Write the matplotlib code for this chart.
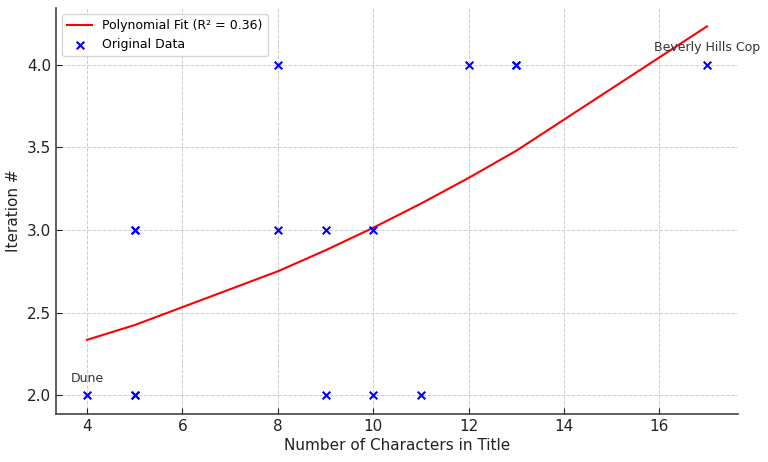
import numpy as np
import matplotlib
matplotlib.use("Agg")
import matplotlib.pyplot as plt

# title lengths and iteration numbers (some points overlap)
title_len = [4, 5, 5, 5, 5, 8, 8, 9, 9, 10, 10, 11, 12, 13, 13, 17]
iteration = [2, 2, 2, 3, 3, 4, 3, 3, 2, 3, 2, 2, 4, 4, 4, 4]
labels = {4: "Dune", 17: "Beverly Hills Cop"}

x = np.array(title_len, dtype=float)
y = np.array(iteration, dtype=float)

# quadratic fit, as in the original
coef = np.polyfit(x, y, 2)
xs = np.unique(x)
fit = np.polyval(coef, xs)
pred = np.polyval(coef, x)
r2 = 1 - np.sum((y - pred) ** 2) / np.sum((y - y.mean()) ** 2)

plt.rcParams['font.family'] = ['DejaVu Sans']
fig, ax = plt.subplots(figsize=(7.68, 4.62), dpi=100)
fig.subplots_adjust(left=0.073, right=0.961, top=0.983, bottom=0.104)

ax.plot(xs, fit, color='red', linewidth=1.5, label=f'Polynomial Fit (R² = {r2:.2f})')
ax.scatter(x, y, color='blue', marker='x', s=30, linewidths=1.5, label='Original Data', zorder=3)

for xi, name in labels.items():
    yi = iteration[title_len.index(xi)]
    ax.annotate(name, (xi, yi), xytext=(0, 10), textcoords='offset points',
                ha='center', fontsize=9, color='#333333')

ax.set_xlabel('Number of Characters in Title', fontsize=11, color='#222222', labelpad=3)
ax.set_ylabel('Iteration #', fontsize=11, color='#222222')
ax.grid(True, linestyle='--', color='#cccccc', linewidth=0.7)
ax.set_axisbelow(True)
for s in ('top', 'right'):
    ax.spines[s].set_visible(False)
for s in ('left', 'bottom'):
    ax.spines[s].set_color('#444444')
    ax.spines[s].set_linewidth(1.2)
ax.tick_params(labelsize=11, colors='#222222', length=4, direction='in')
ax.set_yticks([2.0, 2.5, 3.0, 3.5, 4.0])
ax.legend(loc='upper left', fontsize=9, frameon=True, edgecolor='#cccccc')

fig.savefig('out.png', dpi=100)
